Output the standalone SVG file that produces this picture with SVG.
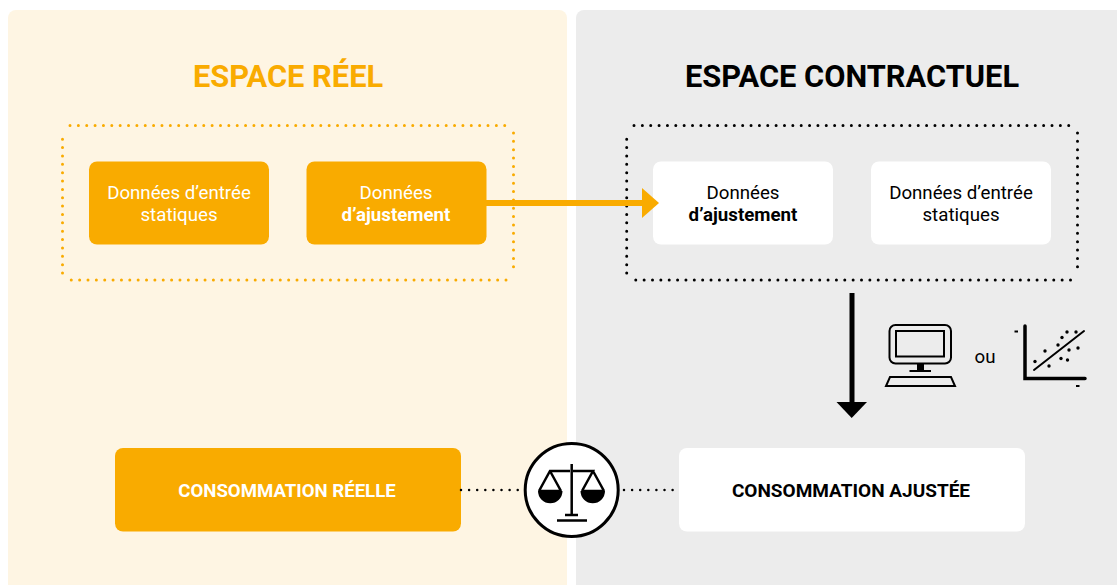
<svg xmlns="http://www.w3.org/2000/svg" width="1117" height="585" viewBox="0 0 1117 585">
<style>
text{font-family:Roboto,"Liberation Sans",sans-serif;text-anchor:middle}
.t{font-size:18.7px;font-weight:400}.t.b{font-weight:700}
.h{font-size:30.8px;font-weight:700}
.o{fill:#f9ab00}.w{fill:#fff}
.tw{fill:#fff}.tk{fill:#000}
.cap{font-size:18.6px;font-weight:700}
.dot{fill:none;stroke-width:3;stroke-linecap:round;stroke-dasharray:0 8.36}
.dl{fill:none;stroke:#000;stroke-width:2.5;stroke-linecap:round;stroke-dasharray:0 8.1}
.ic{fill:none;stroke:#000}
</style>
<g id="panel-reel"><path d="M8 18a8 8 0 0 1 8-8H559a8 8 0 0 1 8 8V585H8Z" fill="#fef5e3"/>
<text x="288" y="86.500" class="h" fill="#f9ab00">ESPACE RÉEL</text>
<path d="M70 125.500H506M513.500 133V273M506 280H70M62.500 273V133" class="dot" stroke="#f9ab00"/></g>
<g id="panel-contractuel"><path d="M576 18a8 8 0 0 1 8-8H1117V585H576Z" fill="#ececec"/>
<text x="852" y="86.500" class="h" fill="#000">ESPACE CONTRACTUEL</text>
<path d="M634 125.500H1070.500M1077.500 133V273M1070.500 280H634M626.700 273V133" class="dot" stroke="#000"/></g>
<g id="n-entree-reel"><rect x="89" y="161.500" width="180" height="83" rx="8" class="o"/>
<text x="179" y="198.500" class="t tw">Données d’entrée</text><text x="179" y="220.500" class="t tw">statiques</text></g>
<g id="n-ajust-reel"><rect x="306.500" y="161.500" width="180" height="83" rx="8" class="o"/>
<text x="396" y="198.500" class="t tw">Données</text><text x="396" y="220.500" class="t tw b">d’ajustement</text></g>
<g id="n-ajust-contrat"><rect x="653" y="161.500" width="180" height="83" rx="8" class="w"/>
<text x="743" y="198.500" class="t tk">Données</text><text x="743" y="220.500" class="t tk b">d’ajustement</text></g>
<g id="n-entree-contrat"><rect x="871" y="161.500" width="180" height="83" rx="8" class="w"/>
<text x="961" y="198.500" class="t tk">Données d’entrée</text><text x="961" y="220.500" class="t tk">statiques</text></g>
<g id="n-conso-reelle"><rect x="115" y="448" width="346" height="83.500" rx="8" class="o"/>
<text x="287" y="496.500" class="cap tw">CONSOMMATION RÉELLE</text></g>
<g id="n-conso-ajustee"><rect x="679" y="448" width="346" height="83.500" rx="8" class="w"/>
<text x="851" y="496.500" class="cap tk" style="font-size:19px">CONSOMMATION AJUSTÉE</text></g>
<g id="connectors">
<path d="M486 203H643" stroke="#f9ab00" stroke-width="6" fill="none"/>
<path d="M642 188L659 203L642 218Z" fill="#f9ab00"/>
<path d="M852 293V403" stroke="#000" stroke-width="5" fill="none"/>
<path d="M836.500 402H867L851.700 418Z" fill="#000"/>
<path d="M461 490H522" class="dl"/>
<path d="M624 490H677" class="dl"/>
</g>
<g id="n-balance">
<circle cx="571.700" cy="490" r="46.500" fill="#fff" stroke="#000" stroke-width="3"/>
<path d="M571.700 464V515M565 515H578M557 520.500H587M570 471H550L539 491M550 471L561 491M573 471H593L582 491M593 471L604 491M540 491H561M583 491H604" class="ic" stroke-width="2.500"/>
<path d="M538 491H562.500A12.200 12.200 0 0 1 538 491ZM580.500 491H605A12.200 12.200 0 0 1 580.500 491Z" fill="#000"/>
</g>
<g id="icon-ordinateur">
<rect x="889.500" y="325" width="61.500" height="38.500" rx="6" class="ic" stroke-width="2"/>
<rect x="896" y="331" width="48" height="25.500" class="ic" stroke-width="2"/>
<path d="M917 363.500h7v7h-7Z" fill="#000"/>
<path d="M909.500 371H931" class="ic" stroke-width="2"/>
<path d="M890 377H951L955 386H886Z" class="ic" stroke-width="2"/>
</g>
<text id="label-ou" x="985" y="363" class="t tk">ou</text>
<g id="icon-nuage">
<path d="M1025 326V378.500H1085" class="ic" stroke-width="3.500" stroke-linecap="round"/>
<path d="M1034 370L1084 331" class="ic" stroke-width="2" stroke-linecap="round"/>
<path d="M1014.500 331.500H1018M1076 386H1079.500" class="ic" stroke-width="2"/>
<g fill="#000"><circle cx="1035" cy="361.500" r="1.700"/><circle cx="1045" cy="351" r="1.700"/><circle cx="1049" cy="366" r="1.700"/><circle cx="1058" cy="345" r="1.700"/><circle cx="1062" cy="337.500" r="1.700"/><circle cx="1067" cy="332" r="1.700"/><circle cx="1076" cy="332" r="1.700"/><circle cx="1069" cy="350" r="1.700"/><circle cx="1078" cy="348" r="1.700"/><circle cx="1061" cy="358.500" r="1.700"/><circle cx="1067.500" cy="360" r="1.700"/></g>
</g>
</svg>
